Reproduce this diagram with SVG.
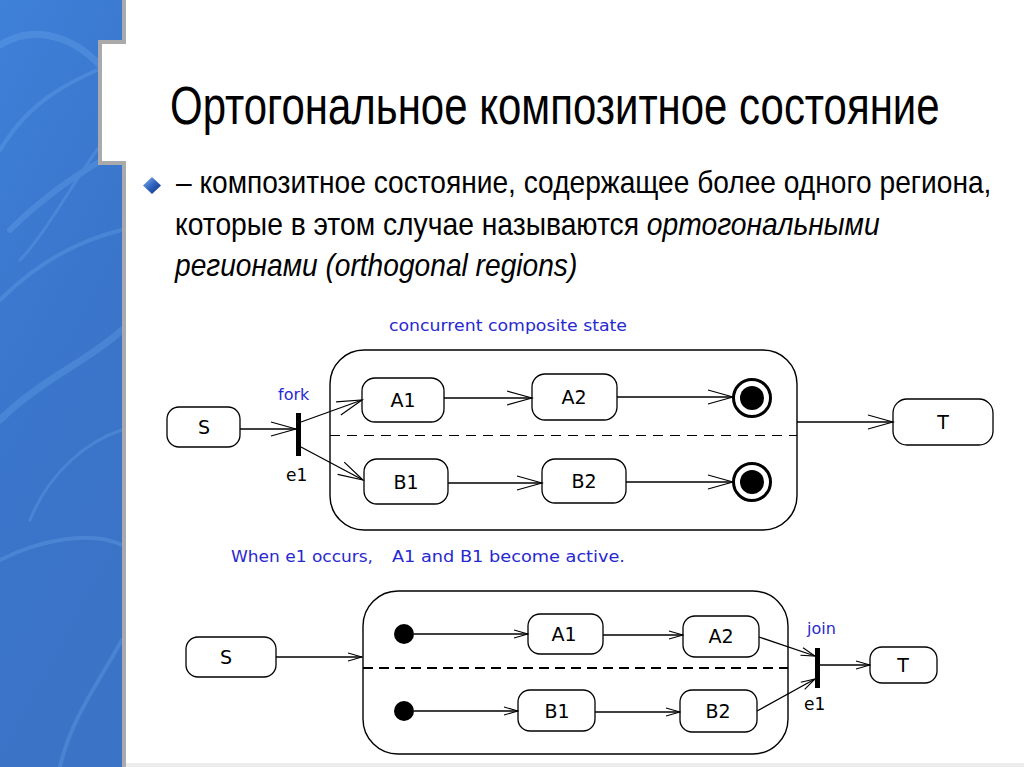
<svg xmlns="http://www.w3.org/2000/svg" width="1024" height="767" viewBox="0 0 1024 767">
  <defs>
    <linearGradient id="bandGrad" x1="0" y1="0" x2="0.3" y2="1">
      <stop offset="0" stop-color="#3f80d8"/>
      <stop offset="0.5" stop-color="#3a76cc"/>
      <stop offset="1" stop-color="#3b73c6"/>
    </linearGradient>
    <linearGradient id="bulletGrad" x1="0" y1="0" x2="1" y2="1">
      <stop offset="0" stop-color="#8fb8f0"/>
      <stop offset="0.5" stop-color="#2f64c0"/>
      <stop offset="1" stop-color="#0e2a78"/>
    </linearGradient>
    <marker id="ah" viewBox="0 0 28 16" markerWidth="28" markerHeight="16" refX="26" refY="8" orient="auto" markerUnits="userSpaceOnUse">
      <path d="M1,1 L26,8 L1,15" fill="none" stroke="#000" stroke-width="1.2"/>
    </marker>
    <marker id="ahs" viewBox="0 0 16 10" markerWidth="16" markerHeight="10" refX="15" refY="5" orient="auto" markerUnits="userSpaceOnUse">
      <path d="M1,1 L15,5 L1,9" fill="none" stroke="#000" stroke-width="1.1"/>
    </marker>
    <style>
      .box { fill: #fff; stroke: #000; stroke-width: 1.3; }
      .comp { fill: none; stroke: #000; stroke-width: 1.4; }
      .lbl { font-family: "DejaVu Sans", "Liberation Sans", sans-serif; font-size: 19px; fill: #000; text-anchor: middle; }
      .blue { font-family: "DejaVu Sans", "Liberation Sans", sans-serif; font-size: 16px; fill: #2828d0; }
      .ev { font-family: "DejaVu Sans", "Liberation Sans", sans-serif; font-size: 17px; fill: #000; }
      .conn { fill: none; stroke: #000; stroke-width: 1.3; }
      .big { marker-end: url(#ah); }
      .small { marker-end: url(#ahs); }
      .body { font-family: "Liberation Sans", Arial, sans-serif; font-size: 32px; fill: #000; }
      .it { font-style: italic; }
    </style>
  </defs>

  <!-- background -->
  <rect x="0" y="0" width="1024" height="767" fill="#ffffff"/>
  <g id="band">
    <rect x="0" y="0" width="124" height="767" fill="url(#bandGrad)"/>
    <g fill="none" stroke="#78b4f4" stroke-linecap="round" opacity="0.25">
      <path d="M0,45 C40,20 90,40 122,95" stroke-width="7"/>
      <path d="M0,150 C30,100 70,80 122,60" stroke-width="4"/>
      <path d="M10,230 C40,200 80,170 122,150" stroke-width="6"/>
      <path d="M0,300 C40,260 80,240 122,230" stroke-width="4"/>
      <path d="M20,260 C50,230 90,150 122,120" stroke-width="3"/>
      <path d="M0,420 C40,380 90,360 122,330" stroke-width="7"/>
      <path d="M30,520 C50,470 90,440 122,430" stroke-width="3"/>
      <path d="M0,560 C40,540 90,530 122,545" stroke-width="4"/>
      <path d="M60,767 C70,720 100,680 122,640" stroke-width="4"/>
    </g>
    <rect x="100" y="42" width="26" height="121" fill="#ffffff"/>
    <path d="M124,0 L124,42 L100,42 L100,163 L124,163 L124,767" fill="none" stroke="#aaaaaa" stroke-width="4"/>
    <rect x="126" y="763" width="898" height="4" fill="#ececec"/>
  </g>

  <!-- title and bullet text -->
  <g id="title">
    <text transform="translate(170,124) scale(0.8,1)" x="0" y="0" font-family="'Liberation Sans', Arial, sans-serif" font-size="54" fill="#000" textLength="962" lengthAdjust="spacingAndGlyphs">Ортогональное композитное состояние</text>
  </g>
  <g id="bullet">
    <path d="M152,177 L161,185.5 L152,194 L143,185.5 Z" fill="url(#bulletGrad)"/>
    <text class="body" transform="translate(176,193) scale(0.9,1)" x="0" y="0" textLength="906" lengthAdjust="spacingAndGlyphs">– композитное состояние, содержащее более одного региона,</text>
    <text class="body" transform="translate(175,235) scale(0.9,1)" x="0" y="0" textLength="783" lengthAdjust="spacingAndGlyphs">которые в этом случае называются <tspan class="it">ортогональными</tspan></text>
    <text class="body it" transform="translate(175,276) scale(0.9,1)" x="0" y="0" textLength="447" lengthAdjust="spacingAndGlyphs">регионами (orthogonal regions)</text>
  </g>

  <!-- ===== Upper diagram ===== -->
  <text class="blue" x="389" y="331" textLength="238" lengthAdjust="spacingAndGlyphs">concurrent composite state</text>
  <g id="u-composite">
    <rect class="comp" x="330" y="350" width="467" height="180" rx="34" ry="34"/>
    <line x1="330" y1="435.5" x2="797" y2="435.5" stroke="#000" stroke-width="1" stroke-dasharray="10 7"/>
  </g>
  <g id="u-S">
    <rect class="box" x="167" y="407" width="73" height="40" rx="12" ry="12"/>
    <text class="lbl" x="204" y="434">S</text>
  </g>
  <g id="u-fork">
    <rect x="296" y="413" width="5" height="43" fill="#000"/>
    <text class="blue" x="278" y="400">fork</text>
    <text class="ev" x="286" y="481">e1</text>
  </g>
  <g id="u-A1">
    <rect class="box" x="362" y="378" width="82" height="44" rx="13" ry="13"/>
    <text class="lbl" x="403" y="407">A1</text>
  </g>
  <g id="u-A2">
    <rect class="box" x="532" y="374" width="85" height="46" rx="13" ry="13"/>
    <text class="lbl" x="574" y="404">A2</text>
  </g>
  <g id="u-B1">
    <rect class="box" x="364" y="459" width="84" height="45" rx="13" ry="13"/>
    <text class="lbl" x="406" y="489">B1</text>
  </g>
  <g id="u-B2">
    <rect class="box" x="542" y="459" width="84" height="44" rx="13" ry="13"/>
    <text class="lbl" x="584" y="488">B2</text>
  </g>
  <g id="u-finalA">
    <circle cx="752" cy="398" r="18.5" fill="#fff" stroke="#000" stroke-width="3"/>
    <circle cx="752" cy="398" r="12" fill="#000"/>
  </g>
  <g id="u-finalB">
    <circle cx="752" cy="482" r="18.5" fill="#fff" stroke="#000" stroke-width="3"/>
    <circle cx="752" cy="482" r="12" fill="#000"/>
  </g>
  <g id="u-T">
    <rect class="box" x="893" y="399" width="100" height="46" rx="14" ry="14"/>
    <text class="lbl" x="943" y="429">T</text>
  </g>

  <!-- ===== Lower diagram ===== -->
  <text class="blue" x="231" y="562" textLength="142" lengthAdjust="spacingAndGlyphs">When e1 occurs,</text>
  <text class="blue" x="392" y="562" textLength="233" lengthAdjust="spacingAndGlyphs">A1 and B1 become active.</text>
  <g id="l-composite">
    <rect class="comp" x="363" y="591" width="425" height="163" rx="35" ry="35"/>
    <line x1="363" y1="668" x2="788" y2="668" stroke="#000" stroke-width="2" stroke-dasharray="10 6"/>
  </g>
  <g id="l-S">
    <rect class="box" x="186" y="637" width="90" height="40" rx="12" ry="12"/>
    <text class="lbl" x="226" y="664">S</text>
  </g>
  <g id="l-initA">
    <circle cx="404" cy="634" r="10" fill="#000"/>
  </g>
  <g id="l-initB">
    <circle cx="404" cy="711" r="10" fill="#000"/>
  </g>
  <g id="l-A1">
    <rect class="box" x="528" y="614" width="75" height="40" rx="12" ry="12"/>
    <text class="lbl" x="564" y="641">A1</text>
  </g>
  <g id="l-A2">
    <rect class="box" x="683" y="616" width="76" height="41" rx="12" ry="12"/>
    <text class="lbl" x="721" y="643">A2</text>
  </g>
  <g id="l-B1">
    <rect class="box" x="518" y="690" width="77" height="41" rx="12" ry="12"/>
    <text class="lbl" x="557" y="718">B1</text>
  </g>
  <g id="l-B2">
    <rect class="box" x="680" y="690" width="77" height="42" rx="12" ry="12"/>
    <text class="lbl" x="718" y="718">B2</text>
  </g>
  <g id="l-join">
    <rect x="815" y="648" width="5" height="40" fill="#000"/>
    <text class="blue" x="807" y="634">join</text>
    <text class="ev" x="804" y="710">e1</text>
  </g>
  <g id="l-T">
    <rect class="box" x="870" y="647" width="67" height="36" rx="12" ry="12"/>
    <text class="lbl" x="903" y="672">T</text>
  </g>

  <!-- connectors -->
  <g id="connectors">
    <line class="conn big" x1="240" y1="429" x2="296" y2="429"/>
    <line class="conn big" x1="301" y1="422" x2="362" y2="400"/>
    <line class="conn big" x1="301" y1="447" x2="363" y2="480"/>
    <line class="conn big" x1="444" y1="398" x2="532" y2="398"/>
    <line class="conn big" x1="617" y1="397" x2="733" y2="397"/>
    <line class="conn big" x1="448" y1="483" x2="542" y2="483"/>
    <line class="conn big" x1="626" y1="482" x2="733" y2="482"/>
    <line class="conn big" x1="797" y1="422" x2="893" y2="422"/>

    <line class="conn small" x1="276" y1="657" x2="362" y2="657"/>
    <line class="conn small" x1="414" y1="634" x2="528" y2="634"/>
    <line class="conn small" x1="414" y1="711" x2="518" y2="711"/>
    <line class="conn small" x1="603" y1="635" x2="683" y2="635"/>
    <line class="conn small" x1="595" y1="712" x2="680" y2="712"/>
    <line class="conn small" x1="759" y1="637" x2="815" y2="656"/>
    <line class="conn small" x1="757" y1="711" x2="815" y2="679"/>
    <line class="conn small" x1="820" y1="665" x2="870" y2="665"/>
  </g>
</svg>
